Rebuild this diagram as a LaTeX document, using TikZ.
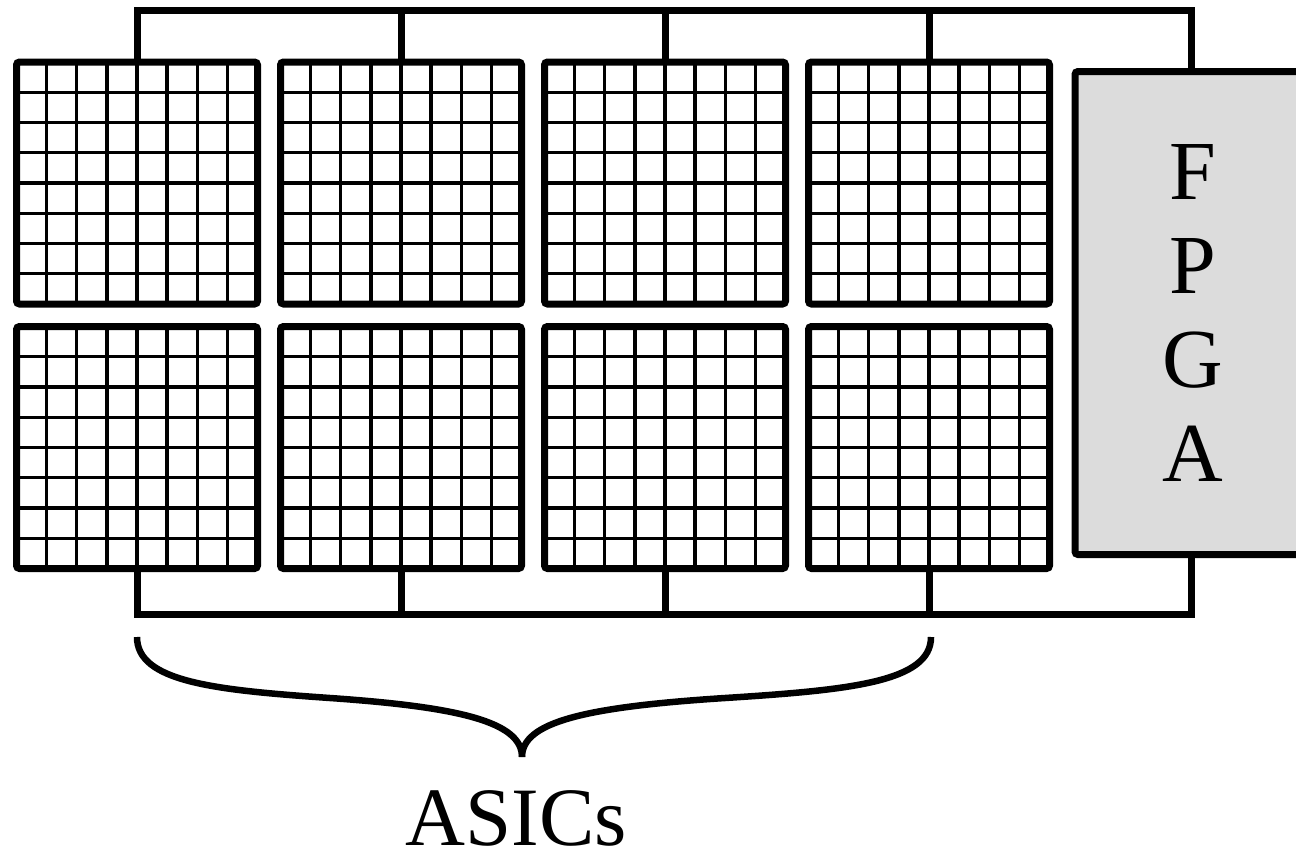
\documentclass[tikz,border=0pt]{standalone}
\usepackage{fontspec}
\setmainfont{Liberation Serif}
\usetikzlibrary{calc}
\definecolor{fpgagray}{HTML}{DCDCDC}
\tikzset{
  asic/.style={draw, line width=7pt, rounded corners=3pt, minimum width=241pt, minimum height=242pt,
    inner sep=0pt, outer sep=0pt,
    path picture={
      \foreach \i in {1,...,7}{
        \draw[line width=3.3pt]
          ($(path picture bounding box.north west)!\i/8!(path picture bounding box.north east)$) --
          ($(path picture bounding box.south west)!\i/8!(path picture bounding box.south east)$);
        \draw[line width=3.3pt]
          ($(path picture bounding box.north west)!\i/8!(path picture bounding box.south west)$) --
          ($(path picture bounding box.north east)!\i/8!(path picture bounding box.south east)$);
      }
    }},
  fpgabox/.style={draw, line width=7pt, rounded corners=3pt, fill=fpgagray, minimum width=236pt,
    minimum height=483pt, inner sep=0pt, outer sep=0pt, align=center,
    font=\fontsize{84}{94}\selectfont},
  bus/.style={line width=7pt},
  bracestyle/.style={line width=6.5pt},
  lbl/.style={font=\fontsize{83}{94}\selectfont, inner sep=0pt, text depth=0pt}
}
\begin{document}
\begin{tikzpicture}[x=1pt,y=-1pt]
\useasboundingbox (0,0) rectangle (1296,855);
\clip (0,0) rectangle (1296,855);
% ASIC chips
\node[asic] (a1) at (137,183) {};
\node[asic] (a2) at (401,183) {};
\node[asic] (a3) at (665,183) {};
\node[asic] (a4) at (929,183) {};
\node[asic] (b1) at (137,447.5) {};
\node[asic] (b2) at (401,447.5) {};
\node[asic] (b3) at (665,447.5) {};
\node[asic] (b4) at (929,447.5) {};
% FPGA
\node[fpgabox] (fpga) at (1193,313) {F\\P\\G\\A};
% bus end points
\coordinate (tl) at (137,10.5);
\coordinate (tr) at (1191,10.5);
\coordinate (bl) at (137,614);
\coordinate (br) at (1191,614);
% top bus
\draw[bus] (a1.north) -- (tl) -- (tr) -- (tr |- fpga.north);
\draw[bus] (a2.north) -- (a2.north |- tl);
\draw[bus] (a3.north) -- (a3.north |- tl);
\draw[bus] (a4.north) -- (a4.north |- tl);
% bottom bus
\draw[bus] (b1.south) -- (bl) -- (br) -- (br |- fpga.south);
\draw[bus] (b2.south) -- (b2.south |- bl);
\draw[bus] (b3.south) -- (b3.south |- bl);
\draw[bus] (b4.south) -- (b4.south |- bl);
% brace
\coordinate (brL) at (137,637);
\coordinate (brM) at (522,757);
\coordinate (brR) at (931,637);
\draw[bracestyle] (brL) .. controls (137,682) and (215,690) .. (330,698)
  .. controls (460,707) and (522,722) .. (brM);
\draw[bracestyle] (brR) .. controls (931,682) and (850,690) .. (725,698)
  .. controls (585,707) and (522,722) .. (brM);
% label
\node[lbl, anchor=base] (asics) at (516,845) {ASICs};
\end{tikzpicture}
\end{document}
